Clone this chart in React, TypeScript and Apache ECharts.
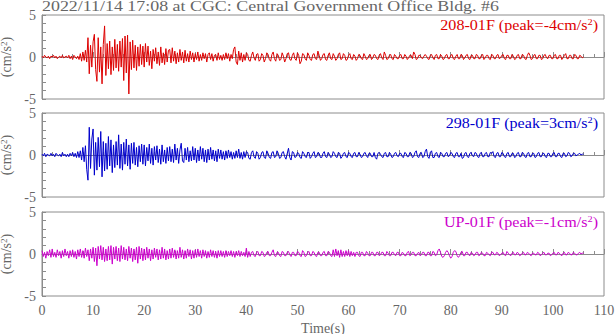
import React, { useEffect, useRef } from "react";
import * as echarts from "echarts";

const DT = 0.25; // sample interval (s)
const TITLE = "2022/11/14 17:08 at CGC: Central Government Office Bldg. #6";
const NAMES = ["208-01F", "298-01F", "UP-01F"];
const PEAKS = ["-4", "3", "-1"];
const COLORS = ["#dd0000", "#0000cc", "#cc00cc"];
const X_TICKS = [0, 10, 20, 30, 40, 50, 60, 70, 80, 90, 100, 110];
const Y_TICKS = [-5, 0, 5];

const S208 = [
  0.1,-0.1,0.2,0,-0.1,0.1,-0.2,0.1,0,0.2,-0.1,0.1,-0.2,0,0.1,-0.1,0.2,-0.1,0,0.1,
  -0.1,0.2,-0.2,0.1,-0.3,0.2,0,-0.2,0.1,-0.3,0.4,-0.5,0.6,-0.4,0.8,-0.6,2.3,-2,1.4,-1.2,
  1.8,2.7,-1.5,-2.9,2.3,-1.8,1.2,-3.2,1.5,3.7,-2.2,1.6,-1.4,1.9,-2.1,1.2,-1.6,2.1,-1.3,1.5,
  -1.7,1.9,-1.2,2.2,-2.8,2.5,-1.9,2.6,-4.4,1.8,-1.5,2,-1.3,1.4,-1.6,1.2,-1.1,1.5,-0.9,1.3,
  -1.2,1.6,-0.6,1.3,-1,0.7,-1.4,0.9,-0.5,1.1,-0.8,0.6,-1,1.2,-0.7,0.5,-0.9,1,-0.6,0.8,
  0.9,-0.7,1.1,-0.5,0.7,-0.8,0.5,-0.6,0.9,-0.4,0.6,-0.7,0.8,-0.5,0.4,-0.6,0.7,-0.3,0.5,-0.6,
  0.4,-0.3,0.6,-0.5,0.3,-0.4,0.5,-0.2,0.4,-0.6,0.3,0.5,-0.3,0.4,-0.5,0.2,0.3,-0.4,0.5,-0.3,
  0.2,-0.4,0.3,-0.3,0.5,-0.2,0.4,-0.5,0.3,-0.2,0.9,1.2,-0.6,-0.9,0.7,-0.4,0.5,-0.6,0.3,-0.4,
  0.5,0.3,-0.4,-0.5,0.2,0.6,-0.1,-0.4,0.3,0.4,-0.5,-0.3,0.4,0.2,-0.6,-0.2,0.5,0.3,-0.3,-0.5,
  0.3,0.6,-0.2,-0.5,0.4,0.2,-0.4,-0.3,0.5,0.1,-0.6,-0.2,0.4,0.5,-0.3,-0.4,0.2,0.5,-0.2,-0.4,
  0.5,0.2,-0.8,-0.5,0.4,0.3,-0.2,-0.4,0.5,0.2,-0.3,-0.4,0.3,0.4,-0.2,-0.3,0.7,0.2,-0.4,-0.2,
  0.3,0.4,-0.3,-0.4,0.2,0.5,-0.2,-0.3,0.4,0.1,-0.4,-0.2,0.3,0.5,-0.3,-0.2,0.4,0.2,-0.4,-0.3,
  0.2,0.4,-0.2,-0.3,0.3,0.1,-0.4,-0.2,0.3,0.2,-0.2,-0.3,0.4,0.1,-0.3,-0.2,0.2,0.3,-0.3,-0.1,
  0.3,0.2,-0.2,-0.3,0.2,0.4,-0.1,-0.3,0.6,0.2,-0.3,-0.2,0.2,0.3,-0.2,-0.3,0.3,0.1,-0.2,-0.2,
  0.2,0.3,-0.2,-0.2,0.3,0.1,-0.3,-0.1,0.2,0.2,-0.2,0.6,0.3,-0.3,-0.2,0.2,0.2,-0.1,-0.2,0.1,
  0.3,0.1,-0.2,-0.3,0.2,0.3,-0.1,-0.3,0.2,0.3,-0.2,-0.2,0.3,0.1,-0.3,-0.2,0.2,0.3,-0.2,-0.2,
  0.2,0.3,-0.2,-0.3,0.1,0.3,-0.2,-0.2,0.3,0.2,-0.3,-0.1,0.2,0.3,-0.2,-0.3,0.2,0.2,-0.2,-0.2,
  0.3,0.2,-0.2,-0.2,0.2,0.3,-0.3,-0.1,0.2,0.2,-0.2,-0.3,0.3,0.2,-0.2,-0.2,0.2,0.3,-0.2,-0.1,
  0.2,0.3,-0.2,-0.3,0.2,0.2,-0.2,-0.2,0.3,0.1,-0.3,-0.2,0.2,0.3,-0.2,-0.2,0.3,0.2,-0.2,-0.3,
  0.2,0.5,0.2,-0.3,-0.2,0.2,0.3,-0.2,-0.2,0.2,0.2,-0.3,-0.2,0.2,0.3,-0.1,-0.2,0.2,0.2,-0.2,
  -0.2,0.2,0.3,-0.2,-0.2,0.2,0.2,-0.3,-0.1,0.2,0.4,-0.2,-0.2,0.2,0.2,-0.2,-0.2,0.3,0.2,-0.2,
  -0.2,0.2,0.1,-0.1,0,
];

const S298 = [
  0.1,-0.1,0.2,-0.2,0.1,0,-0.1,0.2,-0.1,0.1,-0.2,0.2,0,-0.1,0.1,-0.2,0.3,-0.1,0.1,-0.2,
  0.1,-0.2,0.2,-0.1,0.3,-0.2,0.2,-0.3,0.4,-0.3,0.5,-0.6,0.9,-0.8,1.1,-1.7,-3,3.3,-1.6,1.9,
  3.1,-2.4,1.5,-1.8,2.1,-1.4,2.8,-2.6,1.6,-1.9,1.4,-1.7,2.2,-1.3,1.8,-2.1,1.2,-1.5,1.6,-1.2,
  2.4,-1.6,1.3,-1.8,1.5,-1.1,1.9,-1.3,1.2,-1.7,1.4,-1.0,1.5,-1.2,0.9,-1.4,1.1,-0.8,1.3,-1.1,
  1.2,-1.3,0.9,-0.7,1.3,-1.0,0.8,-1.2,1.0,-0.6,1.1,-0.9,0.7,-1.1,1.2,-0.8,0.6,-1.0,0.9,-0.7,
  1.0,-0.8,0.7,-0.9,1.3,-0.6,0.8,-1.0,0.6,1.4,-0.7,-0.9,0.8,-0.6,0.9,-0.8,0.5,-0.7,1.0,-0.6,
  0.8,-0.9,0.6,-0.7,1.0,-0.5,0.8,-0.8,0.6,-0.9,0.7,-0.6,0.9,-0.5,0.6,-0.7,0.5,-0.8,0.7,-0.4,
  0.6,-0.5,0.4,-0.6,0.5,-0.4,0.6,-0.3,0.4,-0.5,0.3,-0.4,0.5,-0.3,0.7,-0.4,0.3,-0.5,0.4,-0.3,
  0.4,0.3,-0.4,-0.5,0.3,0.5,-0.2,-0.4,0.4,0.2,-0.5,-0.3,0.3,0.4,-0.3,-0.4,0.5,0.2,-0.3,-0.4,
  0.3,0.4,-0.3,-0.2,0.5,0.2,-0.4,-0.3,0.3,0.4,-0.2,-0.5,0.2,0.8,-0.3,-0.6,0.4,0.3,-0.3,-0.2,
  0.3,0.2,-0.3,-0.4,0.4,0.2,-0.2,-0.3,0.3,0.3,-0.4,-0.2,0.2,0.4,-0.3,-0.2,0.3,0.2,-0.3,-0.3,
  0.2,0.4,-0.2,-0.3,0.3,0.1,-0.3,-0.2,0.4,0.2,-0.2,-0.3,0.3,0.2,-0.4,-0.2,0.2,0.3,-0.2,-0.3,
  0.3,0.2,-0.2,-0.3,0.2,0.3,-0.2,-0.2,0.3,0.1,-0.3,-0.2,0.2,0.3,-0.1,-0.3,0.2,0.2,-0.2,-0.2,
  0.3,-0.3,-0.5,0.2,0.3,0.1,-0.2,-0.3,0.2,0.3,-0.2,-0.2,0.3,0.1,-0.3,-0.2,0.2,0.3,-0.1,-0.2,
  0.2,0.2,-0.2,-0.3,0.3,0.2,-0.2,-0.2,0.3,0.2,-0.3,-0.2,0.3,0.5,-0.2,-0.3,0.2,0.3,-0.3,-0.2,
  0.4,0.7,-0.2,-0.4,0.3,0.5,-0.3,-0.3,0.2,0.3,-0.2,-0.3,0.3,0.2,-0.2,-0.2,0.2,0.3,-0.2,-0.1,
  0.3,0.2,-0.2,-0.3,0.2,0.3,-0.2,-0.2,0.2,-0.4,-0.3,0.2,0.3,-0.2,-0.3,0.2,0.3,-0.1,-0.2,0.3,
  0.2,-0.2,-0.3,0.2,0.3,-0.2,-0.2,0.2,0.3,-0.2,-0.2,0.3,0.2,0.4,-0.2,-0.3,0.2,0.3,-0.2,-0.2,
  0.3,0.2,-0.2,-0.3,0.2,0.3,-0.2,-0.2,0.2,0.2,-0.3,-0.2,0.2,0.3,-0.2,-0.2,0.3,0.2,-0.2,-0.3,
  0.2,0.3,-0.2,-0.2,0.2,0.2,-0.3,-0.2,0.2,0.3,-0.2,-0.2,0.2,0.2,-0.2,-0.3,0.2,0.2,-0.2,-0.2,
  0.2,0.3,-0.2,-0.2,0.2,0.2,-0.2,-0.3,0.2,0.2,-0.2,-0.1,0.3,0.2,-0.2,-0.1,0.2,0.2,-0.1,0,
  0.1,0.2,0,0.1,0.1,
];

const SUP = [
  0.4,-0.3,0.2,-0.5,0.3,-0.2,0.5,-0.4,0.6,-0.3,0.2,-0.4,0.5,-0.2,0.3,-0.5,0.4,-0.3,0.6,-0.2,
  0.3,-0.5,0.4,-0.3,0.5,-0.4,0.3,-0.6,0.5,-0.3,0.6,-0.4,0.4,-0.5,0.7,-0.3,0.5,-0.8,0.6,-0.5,
  0.8,-0.9,0.7,-1.4,0.9,-0.6,1.0,-0.7,0.8,-0.9,0.6,-0.8,0.9,-0.7,1.0,-1.2,0.8,-0.6,0.9,-0.8,
  0.7,-0.9,1.0,-0.6,0.8,-0.7,0.6,-0.8,0.9,-0.5,0.7,-0.9,0.6,-0.7,0.8,-1.1,0.9,-0.6,0.7,-0.8,
  0.6,-0.7,0.8,-0.5,0.6,-0.8,0.5,-0.6,0.7,-0.4,0.6,-0.7,0.5,-0.6,0.8,-0.5,0.6,-0.7,0.4,-0.6,
  0.6,-0.5,0.7,-0.4,0.5,-0.6,0.4,-0.5,0.8,-0.4,0.5,-0.6,0.4,-0.5,0.6,-0.3,0.5,-0.6,0.4,-0.5,
  0.5,-0.4,0.6,-0.3,0.4,-0.5,0.5,-0.3,0.4,-0.5,0.3,-0.4,0.5,-0.3,0.4,-0.4,0.3,-0.5,0.4,-0.3,
  0.4,-0.3,0.3,-0.4,0.4,-0.3,0.3,-0.2,0.4,-0.3,0.3,-0.4,0.3,-0.2,0.4,-0.3,0.3,-0.2,0.2,-0.3,
  0.7,-0.4,0.3,-0.3,0.2,0.3,-0.2,-0.3,0.2,0.3,-0.2,-0.2,0.3,0.2,-0.3,-0.2,0.2,0.3,-0.2,-0.2,
  0.2,0.5,-0.2,-0.3,0.2,0.2,-0.2,-0.3,0.3,0.2,-0.2,-0.2,0.2,0.3,-0.1,-0.3,0.2,0.2,-0.2,-0.2,
  0.3,0.2,-0.2,-0.3,0.4,0.2,-0.3,-0.2,0.2,0.3,-0.2,-0.2,0.3,0.2,-0.2,-0.3,0.2,0.2,-0.2,-0.2,
  0.2,0.3,-0.2,-0.2,0.3,0.2,-0.2,-0.3,0.5,-0.3,0.6,-0.2,0.4,-0.4,0.5,-0.3,0.3,-0.3,0.4,-0.2,
  0.4,-0.3,0.3,-0.2,0.2,-0.3,0.2,0.2,-0.2,-0.3,0.2,0.2,-0.2,-0.2,0.3,0.1,-0.2,-0.2,0.2,0.2,
  -0.2,-0.2,0.2,0.2,-0.2,-0.1,0.2,0.2,-0.2,-0.2,0.3,0.1,-0.2,-0.2,0.2,0.2,-0.1,-0.2,0.2,0.2,
  -0.2,-0.2,0.2,0.1,-0.2,-0.2,0.2,0.3,-0.2,-0.1,0.2,0.2,-0.2,-0.2,0.1,0.2,-0.2,-0.1,0.2,0.2,
  -0.2,-0.2,0.2,0.2,-0.2,-0.2,0.3,0.2,-0.2,-0.1,0.4,0.6,0.2,-0.3,-0.4,-0.2,0.2,0.4,0.2,-0.2,
  -0.5,-0.3,0.2,0.4,0.3,-0.2,-0.4,-0.2,0.2,0.3,-0.2,-0.2,0.2,0.2,-0.1,-0.2,0.2,0.1,-0.2,-0.1,
  0.2,0.2,-0.2,-0.1,0.2,0.1,-0.2,-0.2,0.2,0.1,-0.1,-0.2,0.2,0.2,-0.1,-0.1,0.2,0.1,-0.2,-0.1,
  0.1,0.2,-0.1,-0.2,0.3,0.1,-0.1,-0.2,0.1,0.2,-0.1,-0.1,0.2,0.1,-0.2,-0.1,0.1,0.2,-0.1,-0.1,
  0.2,0.1,-0.1,-0.2,0.1,0.1,-0.1,-0.1,0.2,0.1,-0.2,-0.1,0.1,0.2,-0.1,-0.1,0.1,0.1,-0.2,-0.1,
  0.1,0.2,-0.1,-0.1,0.2,0.1,-0.1,-0.2,0.1,0.2,-0.1,-0.1,0.2,0.1,-0.1,-0.1,0.2,0.1,-0.1,-0.1,
  0.1,0.2,0,0.1,0.1,
];

const SERIES = [S208, S298, SUP];

const FONT = "'Liberation Serif', 'DejaVu Serif', serif";
const AXIS_COLOR = "#8c8c8c";
const TEXT_COLOR = "#666666";

const GRID_LEFT = 42;
const GRID_RIGHT = 12;
const GRID_TOPS = [15, 113, 212];
const GRID_H = 84;

export default function App() {
  const ref = useRef<HTMLDivElement>(null);
  useEffect(() => {
    if (!ref.current) return;
    const chart = echarts.init(ref.current, undefined, { renderer: "svg" });
    const grids = GRID_TOPS.map((top) => ({
      left: GRID_LEFT,
      right: GRID_RIGHT,
      top,
      height: GRID_H,
      containLabel: false,
      outerBoundsMode: "none",
      show: true,
      borderColor: AXIS_COLOR,
      borderWidth: 1,
      backgroundColor: "transparent",
    }));
    const xAxes = GRID_TOPS.map((_, i) => ({
      type: "value",
      gridIndex: i,
      min: X_TICKS[0],
      max: X_TICKS[X_TICKS.length - 1],
      interval: 10,
      axisLine: { show: true, lineStyle: { color: AXIS_COLOR, width: 1 } },
      axisTick: { show: true, inside: true, length: 5, lineStyle: { color: AXIS_COLOR } },
      minorTick: { show: true, splitNumber: 5, length: 3, lineStyle: { color: AXIS_COLOR } },
      splitLine: { show: false },
      axisLabel: {
        show: i === 2,
        color: TEXT_COLOR,
        fontFamily: FONT,
        fontSize: 14,
        margin: 7,
      },
      name: i === 2 ? "Time(s)" : "",
      nameLocation: "middle",
      nameGap: 25,
      nameTextStyle: { color: TEXT_COLOR, fontFamily: FONT, fontSize: 14 },
    }));
    const yAxes = GRID_TOPS.map((_, i) => ({
      type: "value",
      gridIndex: i,
      min: Y_TICKS[0],
      max: Y_TICKS[Y_TICKS.length - 1],
      interval: 5,
      axisLine: { show: true, lineStyle: { color: AXIS_COLOR, width: 1 } },
      axisTick: { show: true, inside: true, length: 4, lineStyle: { color: AXIS_COLOR } },
      minorTick: { show: true, splitNumber: 5, length: 4, lineStyle: { color: AXIS_COLOR } },
      splitLine: { show: false },
      axisLabel: { color: TEXT_COLOR, fontFamily: FONT, fontSize: 14, margin: 6 },
      name: "(cm/s{sup|2})",
      nameLocation: "middle",
      nameGap: 22,
      nameTextStyle: {
        color: TEXT_COLOR,
        fontFamily: FONT,
        fontSize: 14,
        rich: {
          sup: { color: TEXT_COLOR, fontFamily: FONT, fontSize: 9, verticalAlign: "top", padding: [0, 0, 5, 0] },
        },
      },
    }));
    const series = SERIES.map((vals, i) => ({
      type: "line",
      xAxisIndex: i,
      yAxisIndex: i,
      data: vals.map((v, k) => [k * DT, v]),
      showSymbol: false,
      symbol: "none",
      lineStyle: { color: COLORS[i], width: 1 },
      silent: true,
    }));
    const labels = GRID_TOPS.map((top, i) => ({
      type: "text",
      x: 598,
      y: top + 10,
      scaleX: 1.15,
      style: {
        text: `{a|${NAMES[i]} (peak=${PEAKS[i]}cm/s}{s|2}{a|)}`,
        align: "right",
        verticalAlign: "middle",
        rich: {
          a: { fill: COLORS[i], fontFamily: FONT, fontSize: 14 },
          s: { fill: COLORS[i], fontFamily: FONT, fontSize: 9, verticalAlign: "top", padding: [0, 0, 6, 0] },
        },
      },
    }));
    const title = {
      type: "text",
      x: 42,
      y: 6,
      scaleX: 1.28,
      style: {
        text: TITLE,
        align: "left",
        verticalAlign: "middle",
        fill: TEXT_COLOR,
        fontFamily: FONT,
        fontSize: 14,
      },
    };
    chart.setOption({
      animation: false,
      backgroundColor: "#ffffff",
      grid: grids,
      xAxis: xAxes,
      yAxis: yAxes,
      series,
      graphic: [title, ...labels],
    });
    return () => chart.dispose();
  }, []);
  return <div ref={ref} style={{ width: 616, height: 334, position: "absolute", left: 0, top: 0 }} />;
}
